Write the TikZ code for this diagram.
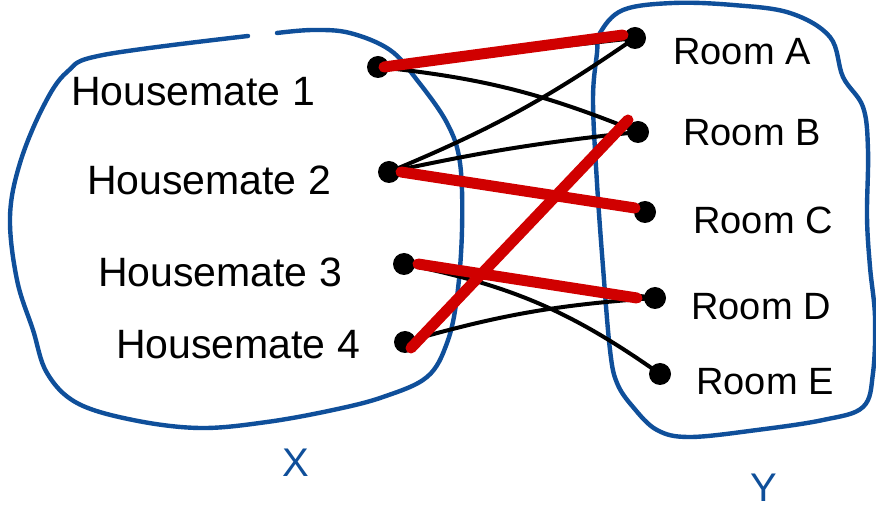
\documentclass[tikz,border=0pt]{standalone}
\usepackage{fontspec}
\setmainfont{Liberation Sans}
\definecolor{setblue}{HTML}{0F4F9A}
\definecolor{matchred}{HTML}{D00000}
\begin{document}
\begin{tikzpicture}[x=1pt,y=-1pt,
  vertex/.style={circle,fill=black,inner sep=0pt,minimum size=22pt},
  lbl/.style={font=\fontsize{41}{41}\selectfont,inner sep=0pt},
  rlbl/.style={font=\fontsize{38}{38}\selectfont,inner sep=0pt},
  edge/.style={draw=black,line width=4pt,line cap=round},
  match/.style={draw=matchred,line width=11pt,line cap=round},
  blob/.style={draw=setblue,line width=4.4pt,line cap=round,line join=round},
  setname/.style={text=setblue,font=\fontsize{40}{40}\selectfont,inner sep=0pt}]
\useasboundingbox (0,0) rectangle (876,526);
\fill[white] (0,0) rectangle (876,526);

% set X (left, open at the top)
\draw[blob] plot[smooth,tension=0.6] coordinates {
  (248,36) (103,55) (67,72) (43,107) (20,163) (10,217) (17,280) (33,330)
  (47,373) (77,403) (133,420) (200,428) (267,422) (333,410) (383,397)
  (427,377) (447,343) (457,297) (462,230) (460,163) (447,123) (417,80)
  (390,50) (350,33) (313,30) (277,33)};

% set Y (right)
\draw[blob] plot[smooth cycle,tension=0.6] coordinates {
  (600,33) (623,10) (673,3) (733,5) (790,13) (830,37) (843,77) (863,107)
  (868,150) (867,217) (870,267) (875,317) (873,373) (863,407) (823,420)
  (757,430) (690,437) (657,430) (633,407) (617,383) (610,350) (603,267)
  (597,183) (593,100) (597,53)};

% labels
\node[lbl] (t1) at (193,92) {Housemate 1};
\node[lbl] (t2) at (209,180) {Housemate 2};
\node[lbl] (t3) at (220,272) {Housemate 3};
\node[lbl] (t4) at (238,345) {Housemate 4};
\node[rlbl] (ta) at (742,52) {Room A};
\node[rlbl] (tb) at (752,133) {Room B};
\node[rlbl] (tc) at (763,220) {Room C};
\node[rlbl] (td) at (761,307) {Room D};
\node[rlbl] (te) at (765,382) {Room E};
\node[setname] (sx) at (296,463) {X};
\node[setname] (sy) at (764,488) {Y};

% vertices
\node[vertex] (h1) at (378,67) {};
\node[vertex] (h2) at (389,172) {};
\node[vertex] (h3) at (404,264) {};
\node[vertex] (h4) at (405,342) {};
\node[vertex] (ra) at (635,38) {};
\node[vertex] (rb) at (638,132) {};
\node[vertex] (rc) at (645,212) {};
\node[vertex] (rd) at (655,298) {};
\node[vertex] (re) at (660,374) {};

% all possible assignments
\draw[edge] (h1.center) -- (ra.center);
\draw[edge] (h1.center) to[bend left=8] (rb.center);
\draw[edge] (h2.center) to[bend right=6] (ra.center);
\draw[edge] (h2.center) to[bend left=3] (rb.center);
\draw[edge] (h2.center) -- (rc.center);
\draw[edge] (h3.center) -- (rd.center);
\draw[edge] (h3.center) to[bend left=12] (re.center);
\draw[edge] (h4.center) to[bend left=6] (rd.center);

% chosen matching
\draw[match] ([xshift=6pt]h1.center) -- ([xshift=-12pt,yshift=3pt]ra.center);
\draw[match] ([xshift=12pt]h2.center) -- ([xshift=-10pt,yshift=4pt]rc.center);
\draw[match] ([xshift=14pt]h3.center) -- ([xshift=-18pt]rd.center);
\draw[match] ([xshift=6pt,yshift=-6pt]h4.center) -- ([xshift=-10pt,yshift=12pt]rb.center);
\end{tikzpicture}
\end{document}
